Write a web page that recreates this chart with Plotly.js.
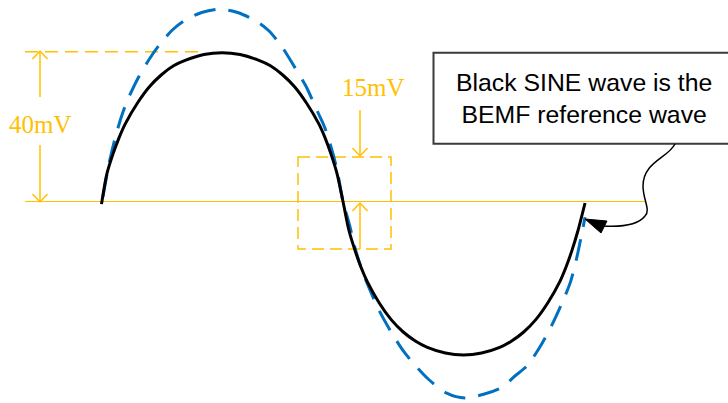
<!DOCTYPE html>
<html>
<head>
<meta charset="utf-8">
<script src="https://cdn.plot.ly/plotly-3.0.1.min.js"></script>
<style>
  html, body { margin: 0; padding: 0; background: #ffffff; }
  #chart { width: 728px; height: 403px; }
</style>
</head>
<body>
<div id="chart"></div>
<script>
// ---- Data (phase in degrees, amplitude in mV) ----
const blackPhase = [0, 4.1, 8.6, 13.2, 17.7, 26.7, 35.7, 44.7, 53.7, 62.8, 76.3, 89.8,
                    103.3, 116.9, 125.9, 134.9, 143.9, 152.9, 162.0, 166.5, 171.0, 175.5, 180.0,
                    184.5, 189.0, 193.5, 198.0, 206.9, 215.9, 224.9, 233.9, 242.9, 256.3, 269.8,
                    283.3, 296.8, 305.7, 314.7, 323.7, 332.7, 341.7, 346.1, 350.6, 355.1, 360.4];
const blackMv    = [-0.7, 7.5, 12.7, 17.1, 20.7, 26.2, 30.6, 33.8, 36.2, 37.7, 39.2, 39.7,
                    39.2, 37.7, 36.2, 33.8, 30.6, 26.2, 20.7, 17.1, 12.7, 7.5, 0.0,
                    -7.8, -13.1, -17.6, -21.3, -27.0, -31.5, -34.8, -37.2, -38.9, -40.4, -40.9,
                    -40.4, -38.9, -37.2, -34.8, -31.5, -27.0, -21.3, -17.6, -13.1, -7.8, -0.4];

const bluePhase = [1.1, 5.4, 9.8, 14.1, 18.4, 27.1, 35.7, 44.3, 53.0, 61.6, 74.6, 87.6,
                   101.4, 115.3, 124.5, 133.8, 143.0, 152.3, 161.5, 166.1, 170.8, 175.4, 180.0,
                   184.9, 189.1, 193.7, 198.2, 207.3, 216.4, 225.5, 234.6, 243.7, 257.3, 270.9,
                   284.8, 298.7, 307.9, 317.2, 326.4, 335.6, 344.9, 349.5, 354.1, 358.7, 360.4];
const blueMv    = [1.3, 9.7, 16.4, 21.8, 26.2, 32.8, 38.0, 42.3, 45.8, 48.2, 50.4, 51.3,
                   50.4, 48.1, 45.6, 41.6, 36.4, 30.8, 23.6, 20.0, 14.9, 8.7, 0.0,
                   -6.3, -12.6, -17.8, -22.0, -29.3, -35.1, -40.1, -44.0, -47.4, -51.1, -52.4,
                   -51.4, -49.5, -46.6, -43.8, -39.0, -33.0, -25.7, -21.5, -15.2, -7.3, -4.2];

const labels = {
  amp: '40mV',
  diff: '15mV',
  note: 'Black SINE wave is the<br>BEMF reference wave'
};

// ---- Layout geometry (page pixels -> axis units) ----
const W = 728, H = 403;
const X0 = 101.5, PXDEG = 483 / 360, Y0 = 201.5, PXMV = 3.75;
const X = px => (px - X0) / PXDEG;
const Y = py => (Y0 - py) / PXMV;
const P = (px, py) => X(px) + ',' + Y(py);

const ORANGE = '#FFC000';
const BLUE = '#0070C0';

const orangeLine = (x0, y0, x1, y1, dash) => ({
  type: 'line', xref: 'x', yref: 'y', layer: 'below',
  x0: X(x0), y0: Y(y0), x1: X(x1), y1: Y(y1),
  line: { color: ORANGE, width: 1.5, dash: dash || 'solid' }
});
const chevron = (tx, ty, dir) => ({
  type: 'path', xref: 'x', yref: 'y', layer: 'below',
  path: 'M' + P(tx - 7.5, ty - dir * 8) + ' L' + P(tx, ty) + ' L' + P(tx + 7.5, ty - dir * 8),
  line: { color: ORANGE, width: 1.5 }
});

const shapes = [
  // baseline
  { type: 'line', xref: 'x', yref: 'y', layer: 'below', x0: X(25), x1: X(646), y0: 0, y1: 0,
    line: { color: ORANGE, width: 1 } },
  // 40mV level
  orangeLine(25, 51.7, 205, 51.7, '13px,7px'),
  // 40mV dimension arrow
  orangeLine(40, 51, 40, 97),
  orangeLine(40, 145, 40, 202),
  chevron(40, 51, -1),
  chevron(40, 202, 1),
  // 15mV box
  { type: 'rect', xref: 'x', yref: 'y', layer: 'below',
    x0: X(298), x1: X(391), y0: Y(157), y1: Y(249),
    line: { color: ORANGE, width: 1.5, dash: '12px,6px' } },
  // 15mV arrows
  orangeLine(360, 110, 360, 156),
  chevron(360, 156, 1),
  orangeLine(360, 249, 360, 203),
  chevron(360, 203, -1),
  // callout box
  { type: 'rect', xref: 'x', yref: 'y', layer: 'above',
    x0: X(433.5), x1: X(760), y0: Y(52.7), y1: Y(143.7),
    fillcolor: '#ffffff', line: { color: '#3a3a3a', width: 2 } },
  // connector
  { type: 'path', xref: 'x', yref: 'y', layer: 'above',
    path: 'M' + P(675, 144) + ' C' + P(668, 158) + ' ' + P(643, 162) + ' ' + P(643, 186) +
          ' C' + P(643, 200) + ' ' + P(651, 210) + ' ' + P(645, 216) +
          ' C' + P(638, 225) + ' ' + P(620, 227) + ' ' + P(603, 226),
    line: { color: '#000000', width: 1.5 } },
  // arrow head
  { type: 'path', xref: 'x', yref: 'y', layer: 'above',
    path: 'M' + P(585, 219) + ' L' + P(607, 221) + ' L' + P(601, 233) + ' Z',
    fillcolor: '#000000', line: { color: '#000000', width: 1 } }
];

const annotations = [
  { xref: 'x', yref: 'y', x: X(40), y: Y(124), text: labels.amp, showarrow: false,
    xanchor: 'center', yanchor: 'middle',
    font: { family: 'Liberation Serif, Times New Roman, serif', size: 25, color: ORANGE } },
  { xref: 'x', yref: 'y', x: X(373), y: Y(87), text: labels.diff, showarrow: false,
    xanchor: 'center', yanchor: 'middle',
    font: { family: 'Liberation Serif, Times New Roman, serif', size: 25, color: ORANGE } },
  { xref: 'x', yref: 'y', x: X(584), y: Y(98), text: labels.note, showarrow: false,
    xanchor: 'center', yanchor: 'middle', align: 'center',
    font: { family: 'Liberation Sans, Arial, sans-serif', size: 24.8, color: '#000000' } }
];

const traces = [
  { x: bluePhase, y: blueMv, type: 'scatter', mode: 'lines', name: 'measured',
    line: { color: BLUE, width: 3, dash: '22px,13px', shape: 'spline', smoothing: 0.8 },
    hoverinfo: 'skip' },
  { x: blackPhase, y: blackMv, type: 'scatter', mode: 'lines', name: 'BEMF reference',
    line: { color: '#000000', width: 3, shape: 'spline', smoothing: 0.8 },
    hoverinfo: 'skip' }
];

const layout = {
  width: W, height: H,
  margin: { l: 0, r: 0, t: 0, b: 0, pad: 0 },
  paper_bgcolor: '#ffffff', plot_bgcolor: '#ffffff',
  showlegend: false,
  xaxis: { range: [X(0), X(W)], visible: false, fixedrange: true },
  yaxis: { range: [Y(H), Y(0)], visible: false, fixedrange: true },
  shapes: shapes,
  annotations: annotations
};

Plotly.newPlot('chart', traces, layout, { staticPlot: true, displayModeBar: false });
</script>
</body>
</html>
